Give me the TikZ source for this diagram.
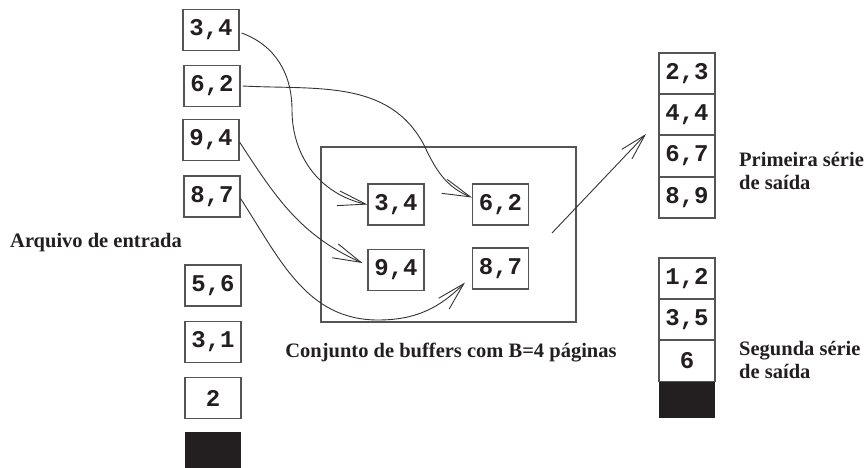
\documentclass[tikz,border=0pt]{standalone}
\usepackage{fontspec}
\setmainfont{Liberation Serif}
\setmonofont{Liberation Mono}
\usetikzlibrary{arrows.meta}
\definecolor{ink}{HTML}{231F20}
\definecolor{edge}{HTML}{555555}
\definecolor{wire}{HTML}{333333}
\begin{document}
\begin{tikzpicture}[x=1pt,y=-1pt,
  cell/.style={draw=edge,line width=1.1pt,minimum width=56pt,minimum height=41pt,inner sep=0pt,
    font=\fontsize{24}{24}\selectfont\ttfamily\bfseries,text=ink},
  blk/.style={fill=ink,draw=none,minimum width=56pt,minimum height=36pt,inner sep=0pt},
  lbl/.style={font=\fontsize{20.5}{23}\selectfont\bfseries,text=ink,inner sep=0pt},
  conn/.style={draw=wire,line width=0.9pt,-{Straight Barb[length=28pt,width=15pt]}}]
\useasboundingbox (0,0) rectangle (867,468);
% input file
\node[cell] (a1) at (211,30) {3,4};
\node[cell] (a2) at (212,86) {6,2};
\node[cell] (a3) at (211,140) {9,4};
\node[cell] (a4) at (212,196.5) {8,7};
\node[cell] (a5) at (213,285.5) {5,6};
\node[cell] (a6) at (213,342) {3,1};
\node[cell] (a7) at (213,398) {2};
\node[blk] (a8) at (213,450) {};
\node[lbl,anchor=base west] (inlbl) at (10,247) {Arquivo de entrada};
% buffer pool
\node[draw=edge,line width=1.1pt,minimum width=255pt,minimum height=175pt,inner sep=0pt] (buf) at (448.5,234.5) {};
\node[cell] (b1) at (396,204.5) {3,4};
\node[cell] (b2) at (500.5,204.5) {6,2};
\node[cell] (b3) at (396,270) {9,4};
\node[cell] (b4) at (500.5,268.5) {8,7};
\node[lbl,anchor=base] (buflbl) at (451,357) {Conjunto de buffers com B=4 páginas};
% first run
\node[cell] (r1) at (687,73.5) {2,3};
\node[cell] (r2) at (687,114.5) {4,4};
\node[cell] (r3) at (687,156) {6,7};
\node[cell] (r4) at (687,197.5) {8,9};
\node[lbl,anchor=base west] (r1lbl) at (739,166) {Primeira série};
\node[lbl,anchor=base west] (r2lbl) at (739,189) {de saída};
% second run
\node[cell] (s1) at (687,278.5) {1,2};
\node[cell] (s2) at (687,319.5) {3,5};
\node[cell] (s3) at (687,361) {6};
\node[blk] (s4) at (687,400) {};
\node[lbl,anchor=base west] (s1lbl) at (739,355) {Segunda série};
\node[lbl,anchor=base west] (s2lbl) at (739,378) {de saída};
% connectors
\draw[conn] ([shift={(2pt,-3pt)}]a1.east) to[out=-20,in=90] (292,110) to[out=-90,in=168] (b1.west);
\draw[conn] ([xshift=2pt]a2.east) to[out=-3,in=118] (424,145) to[out=-65,in=158] ([yshift=7pt]b2.west);
\draw[conn] ([yshift=-2pt]a3.east) to[out=-57,in=156] ([shift={(-5pt,7pt)}]b3.west);
\draw[conn] ([yshift=-2pt]a4.east) to[out=-57,in=180] (378,320) to[out=0,in=225] ([shift={(-7pt,7pt)}]b4.south west);
\coordinate (outS) at (552,233);
\coordinate (outE) at (646,134);
\draw[conn,-{Straight Barb[length=26pt,width=14pt]}] (outS) -- (outE);
\end{tikzpicture}
\end{document}
